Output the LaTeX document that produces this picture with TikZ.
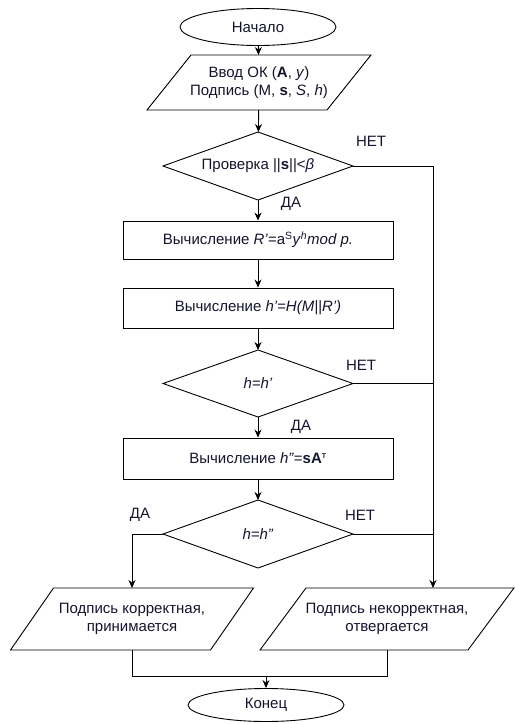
\documentclass[tikz,border=0pt]{standalone}
\usepackage{fontspec}
\setmainfont{Liberation Sans}
\usetikzlibrary{shapes.geometric,arrows.meta,calc}
\definecolor{txt}{RGB}{20,20,45}
\begin{document}
\begin{tikzpicture}[x=1pt,y=-1pt,
  every node/.style={font=\fontsize{15}{18}\selectfont, text=txt},
  lin/.style={draw=black, line width=0.9pt},
  arr/.style={lin, -{Stealth[length=8pt,width=7pt]}},
  term/.style={ellipse, draw, line width=0.9pt, inner sep=0pt, minimum width=156pt},
  proc/.style={rectangle, draw, line width=0.9pt, minimum width=270pt, inner sep=0pt},
  box/.style={rectangle, inner sep=0pt, outer sep=0pt, align=center},
  lbl/.style={inner sep=0pt}
]
\useasboundingbox (0,0) rectangle (515,724);

\node[term, minimum height=37pt] (start) at (258,27) {Начало};

\node[box, minimum width=180pt, minimum height=55pt] (in1) at (259,82.5)
  {Ввод ОК (\textbf{A}, \textit{y})\\Подпись (M, \textbf{s}, \textit{S}, \textit{h})};
\draw[lin] ([xshift=22pt]in1.north west) -- ([xshift=22pt]in1.north east)
  -- ([xshift=-22pt]in1.south east) -- ([xshift=-22pt]in1.south west) -- cycle;

\node[box, minimum width=190pt, minimum height=68pt] (d1) at (258,166) {Проверка ||\textbf{s}||<\textit{β}};
\draw[lin] (d1.north) -- (d1.east) -- (d1.south) -- (d1.west) -- cycle;

\node[proc, minimum height=38pt] (b1) at (258,240)
  {Вычисление \textit{R'}=a\textsuperscript{S}\textit{y}\textsuperscript{\textit{h}}\textit{mod p.}};
\node[proc, minimum height=40pt] (b2) at (258,308) {Вычисление \textit{h'=H(M||R')}};

\node[box, minimum width=190pt, minimum height=67pt] (d2) at (258,383.5) {\textit{h=h'}};
\draw[lin] (d2.north) -- (d2.east) -- (d2.south) -- (d2.west) -- cycle;

\node[proc, minimum height=41pt] (b3) at (258,458.5)
  {Вычисление \textit{h''}=\textbf{sA}\textsuperscript{\scriptsize\textbf{T}}};

\node[box, minimum width=190pt, minimum height=68pt] (d3) at (258,534) {\textit{h=h''}};
\draw[lin] (d3.north) -- (d3.east) -- (d3.south) -- (d3.west) -- cycle;

\node[box, minimum width=200pt, minimum height=62pt] (out1) at (132,619)
  {Подпись корректная,\\принимается};
\draw[lin] ([xshift=21.5pt]out1.north west) -- ([xshift=21.5pt]out1.north east)
  -- ([xshift=-21.5pt]out1.south east) -- ([xshift=-21.5pt]out1.south west) -- cycle;

\node[box, minimum width=208pt, minimum height=62pt] (out2) at (387,619)
  {Подпись некорректная,\\отвергается};
\draw[lin] ([xshift=23pt]out2.north west) -- ([xshift=23pt]out2.north east)
  -- ([xshift=-23pt]out2.south east) -- ([xshift=-23pt]out2.south west) -- cycle;

\node[term, minimum height=33pt] (end) at (266,705) {Конец};

\coordinate (colx) at (433,0);
\coordinate (jn) at (266,676);

\draw[arr] (start) -- (in1);
\draw[arr] (in1) -- (d1);
\draw[arr] (d1) -- (b1);
\draw[arr] (b1) -- (b2);
\draw[arr] (b2) -- (d2);
\draw[arr] (d2) -- (b3);
\draw[arr] (b3) -- (d3);

\draw[arr] (d1.east) -| (colx |- out2.north);
\draw[lin] (d2.east) -- (d2.east -| colx);
\draw[lin] (d3.east) -- (d3.east -| colx);
\draw[arr] (d3.west) -| (out1.north);

\draw[lin] (out1.south) |- (jn);
\draw[lin] (out2.south) |- (jn);
\draw[arr] (jn) -- (end.north);

\node[lbl] (n1) at (371,141) {НЕТ};
\node[lbl] (y1) at (291,204) {ДА};
\node[lbl] (n2) at (361,365) {НЕТ};
\node[lbl] (y2) at (301,427) {ДА};
\node[lbl] (y3) at (140,515) {ДА};
\node[lbl] (n3) at (360,515) {НЕТ};
\end{tikzpicture}
\end{document}
